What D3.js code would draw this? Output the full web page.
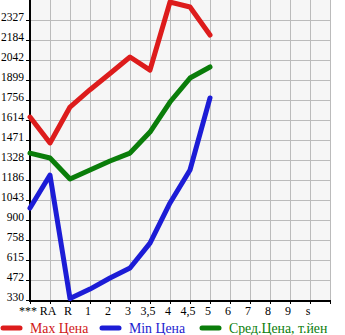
<!DOCTYPE html>
<html>
<head>
<meta charset="utf-8">
<script src="https://cdn.jsdelivr.net/npm/d3@7"></script>
<style>
  body { margin: 0; background: #fff; }
  svg text { font-family: "Liberation Serif", serif; }
</style>
</head>
<body>
<div id="chart"></div>
<script>
// categories and values
var categories = ["***", "RA", "R", "1", "2", "3", "3,5", "4", "4,5", "5", "6", "7", "8", "9", "s"];
var maxPrice = [1635, 1450, 1706, 1830, 1945, 2063, 1970, 2455, 2420, 2220, null, null, null, null, null];
var minPrice = [986, 1221, 340, 408, 487, 558, 736, 1022, 1257, 1771, null, null, null, null, null];
var avgPrice = [1378, 1343, 1193, 1257, 1321, 1378, 1528, 1742, 1913, 1992, null, null, null, null, null];
var yTicks = [330, 472, 615, 758, 900, 1043, 1186, 1328, 1471, 1614, 1756, 1899, 2042, 2184, 2327];

var width = 345, height = 335;
var plot = {left: 30, right: 330, top: 0, bottom: 300};

var svg = d3.select("#chart")
  .append("svg")
    .attr("width", width)
    .attr("height", height);

var x = d3.scaleLinear().domain([0, categories.length]).range([plot.left, plot.right]);
var y = d3.scaleLinear().domain([330, 2469.6]).range([plot.bottom, plot.top]);

// plot background
svg.append("rect")
    .attr("x", plot.left).attr("y", plot.top)
    .attr("width", plot.right - plot.left).attr("height", plot.bottom - plot.top)
    .attr("fill", "#f6f6f6");

// vertical grid
svg.append("g")
  .selectAll("line")
  .data(d3.range(1, categories.length + 1))
  .enter().append("line")
    .attr("x1", function(d) { return x(d) + 0.5; })
    .attr("x2", function(d) { return x(d) + 0.5; })
    .attr("y1", plot.top).attr("y2", plot.bottom)
    .attr("stroke", "#bbbbbb").attr("stroke-width", 1);

// horizontal grid
svg.append("g")
  .selectAll("line")
  .data(yTicks)
  .enter().append("line")
    .attr("x1", plot.left).attr("x2", plot.right)
    .attr("y1", function(d) { return Math.round(y(d)) + 0.5; })
    .attr("y2", function(d) { return Math.round(y(d)) + 0.5; })
    .attr("stroke", "#bbbbbb").attr("stroke-width", 1);

// left axis
var yAxis = svg.append("g");
yAxis.append("line")
    .attr("x1", plot.left).attr("x2", plot.left)
    .attr("y1", plot.top).attr("y2", plot.bottom + 1)
    .attr("stroke", "#000").attr("stroke-width", 2);
yAxis.selectAll("line.tick")
  .data(yTicks)
  .enter().append("line")
    .attr("class", "tick")
    .attr("x1", plot.left - 4).attr("x2", plot.left)
    .attr("y1", function(d) { return Math.round(y(d)) + 0.5; })
    .attr("y2", function(d) { return Math.round(y(d)) + 0.5; })
    .attr("stroke", "#000");
yAxis.selectAll("text")
  .data(yTicks)
  .enter().append("text")
    .attr("x", plot.left - 6)
    .attr("y", function(d) { return Math.round(y(d)) + 1; })
    .attr("text-anchor", "end")
    .attr("font-size", 11.5)
    .text(function(d) { return d; });

// bottom axis
var xAxis = svg.append("g");
xAxis.append("line")
    .attr("x1", plot.left - 1).attr("x2", plot.right + 1)
    .attr("y1", plot.bottom + 1).attr("y2", plot.bottom + 1)
    .attr("stroke", "#000").attr("stroke-width", 2);
xAxis.selectAll("line.tick")
  .data(d3.range(0, categories.length + 1))
  .enter().append("line")
    .attr("class", "tick")
    .attr("x1", function(d) { return x(d) + 0.5; })
    .attr("x2", function(d) { return x(d) + 0.5; })
    .attr("y1", plot.bottom + 1).attr("y2", plot.bottom + 4)
    .attr("stroke", "#000");
xAxis.selectAll("text")
  .data(categories)
  .enter().append("text")
    .attr("x", function(d, i) { return x(i) - 2; })
    .attr("y", plot.bottom + 15)
    .attr("text-anchor", "middle")
    .attr("font-size", 12)
    .text(function(d) { return d; });

// series lines
var series = [
  {name: "Max Цена", values: maxPrice, color: "#dd1c1c", text: "#d01818"},
  {name: "Min Цена", values: minPrice, color: "#1c1cd6", text: "#1c1cd0"},
  {name: "Сред.Цена, т.йен", values: avgPrice, color: "#0a7d0a", text: "#0a7d0a"}
];

var line = d3.line()
    .defined(function(d) { return d != null; })
    .x(function(d, i) { return x(i); })
    .y(function(d) { return y(d); });

// draw order: green, blue on top, red on top
[series[2], series[1], series[0]].forEach(function(s) {
  svg.append("path")
      .datum(s.values)
      .attr("d", line)
      .attr("fill", "none")
      .attr("stroke", s.color)
      .attr("stroke-width", 5)
      .attr("stroke-linejoin", "round")
      .attr("stroke-linecap", "round");
});

// legend
var legendX = [0, 99, 199];
series.forEach(function(s, i) {
  var g = svg.append("g").attr("transform", "translate(" + legendX[i] + ",328)");
  g.append("line")
      .attr("x1", 3).attr("x2", 20)
      .attr("y1", 0).attr("y2", 0)
      .attr("stroke", s.color)
      .attr("stroke-width", 5)
      .attr("stroke-linecap", "round");
  g.append("text")
      .attr("x", 30).attr("y", 5)
      .attr("font-size", 13.8)
      .attr("fill", s.text)
      .text(s.name);
});
</script>
</body>
</html>
